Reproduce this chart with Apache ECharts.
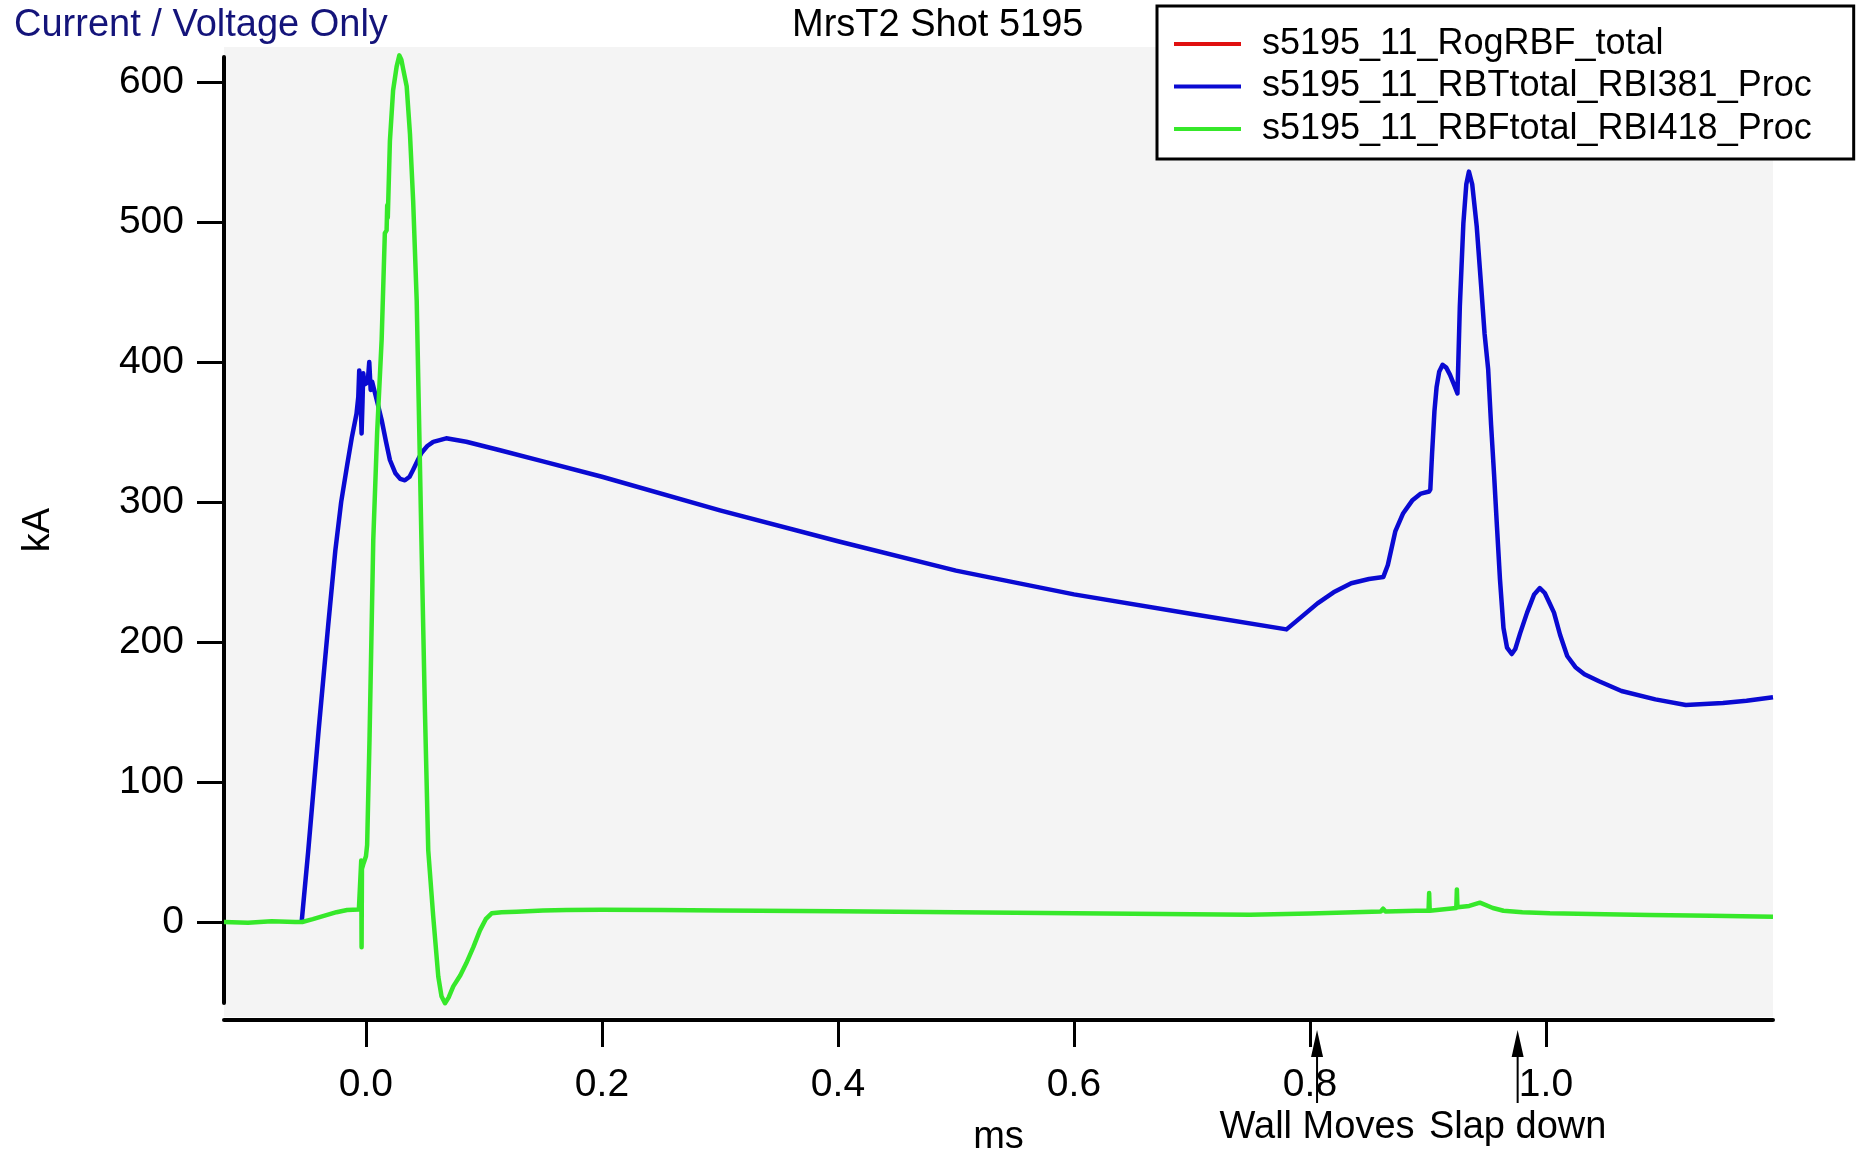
<!DOCTYPE html>
<html><head><meta charset="utf-8">
<script src="https://cdn.jsdelivr.net/npm/echarts@6/dist/echarts.min.js"></script>
<style>html,body{margin:0;padding:0;background:#fff}#c{width:1857px;height:1151px}</style>
</head><body><div id="c"></div>
<script>
// ---------- data ----------
const seriesNames = ['s5195_11_RogRBF_total', 's5195_11_RBTtotal_RBI381_Proc', 's5195_11_RBFtotal_RBI418_Proc'];

const redT = [];
const redV = [];

const blueT = [-0.0545, -0.049, -0.040, -0.032, -0.026, -0.021, -0.016, -0.012, -0.008, -0.0065, -0.0057, -0.0047, -0.0037, -0.0029, -0.0023, -0.0012, 0.0006, 0.0018, 0.0028, 0.0040, 0.0052, 0.0062, 0.0076, 0.0100, 0.0133, 0.0170, 0.0203, 0.0250, 0.0290, 0.0330, 0.0370, 0.0400, 0.0440, 0.0470, 0.0520, 0.0570, 0.0680, 0.0850, 0.1136, 0.1500, 0.2000, 0.3000, 0.4000, 0.5000, 0.6000, 0.7000, 0.7801,
  0.7900, 0.8064, 0.8200, 0.8350, 0.8500, 0.8622, 0.8660, 0.8723, 0.8790, 0.8866, 0.8940, 0.9010, 0.9020, 0.9035, 0.9055, 0.9073, 0.9095, 0.9124, 0.9155, 0.9186, 0.9220, 0.9250, 0.9270, 0.9300, 0.9325, 0.9347, 0.9375, 0.9413, 0.9450, 0.9480, 0.9510, 0.9535, 0.9560, 0.9585, 0.9610, 0.9640, 0.9670, 0.9710, 0.9740, 0.9780, 0.9840, 0.9900, 0.9948, 0.9990, 1.0035, 1.0068, 1.0120, 1.0180, 1.0250, 1.0326, 1.0450, 1.0640, 1.0927, 1.1185, 1.1500, 1.1700, 1.1924];
const blueV = [0, 50, 138, 212, 265, 300, 326, 346, 363, 375, 394, 378, 349, 372, 392, 384, 385, 389, 400, 380, 386, 386, 378, 370, 358.6, 343, 330, 320.5, 316.5, 315.5, 318, 323, 330, 335, 340, 343, 345.5, 343, 337, 329, 318, 294, 272, 251, 234, 220, 209,
  216, 227.6, 235.5, 242, 245, 246.5, 255, 279, 292, 301, 306, 307.5, 309, 335, 365, 382, 393, 398, 396, 391, 384, 377.6, 439.5, 499, 527, 536, 527, 497, 455, 420, 395, 355, 320, 282, 245, 210, 196, 191.4, 195, 206, 221, 234, 238.5, 235, 227, 221, 205, 190, 182, 177, 172, 165, 159, 155, 156.5, 158, 160.5];

const greenT = [-0.1203, -0.100, -0.080, -0.060, -0.054, -0.045, -0.035, -0.025, -0.016, -0.006, -0.0045, -0.0040, -0.0037, -0.0034, -0.0020, 0.0000, 0.0010, 0.0030, 0.0062, 0.0095, 0.0133, 0.0160, 0.0175, 0.0180, 0.0185, 0.0203, 0.0230, 0.0260, 0.0283, 0.0300, 0.0316, 0.0345, 0.0373, 0.0400, 0.0430, 0.0470, 0.0500, 0.0528, 0.0570, 0.0613, 0.0640, 0.0670, 0.0700, 0.0740, 0.0800, 0.0850, 0.0910, 0.0966, 0.1015, 0.1065, 0.1150, 0.1277, 0.1500, 0.1700, 0.2000, 0.2500, 0.3000, 0.4000, 0.5000, 0.6000, 0.7000, 0.7490, 0.8000, 0.8600, 0.8620, 0.8640, 0.8900, 0.9005, 0.9010, 0.9015, 0.9240, 0.9245, 0.9250, 0.9350, 0.9440, 0.9550, 0.9640, 0.9800, 1.0034, 1.0500, 1.0880, 1.1400, 1.1924];
const greenV = [0, -0.5, 0.5, 0, 0, 2, 4.5, 7, 8.6, 9, 9, 44, -18, 38, 42, 47, 55, 130, 273, 350, 416, 492, 494, 512, 503, 558, 594, 611, 619, 616, 609, 597, 563, 515, 444, 273, 150, 51, 4, -39, -53, -58, -54, -46, -38, -29.5, -18, -6, 2, 6.2, 7, 7.4, 8.2, 8.6, 8.8, 8.5, 8.2, 7.6, 7, 6.3, 5.6, 5.2, 6, 7.5, 9.5, 7.5, 8, 8, 20.7, 8, 10, 23.3, 10.5, 11.5, 13.8, 10, 8, 7, 6.2, 5.5, 5, 4.5, 3.8];

const xTicks = [0.0, 0.2, 0.4, 0.6, 0.8, 1.0];
const yTicks = [0, 100, 200, 300, 400, 500, 600];
const xRange = [-0.1203, 1.1924];
const yRange = [-57.86, 617.86];
const annotX = [0.806, 0.976];
const annotLabels = ['Wall Moves', 'Slap down'];
const titleLeft = 'Current / Voltage Only';
const titleMain = 'MrsT2 Shot 5195';
const xName = 'ms';
const yName = 'kA';

// ---------- chart ----------
const FONT = "'Liberation Sans', Arial, Helvetica, sans-serif";
const colors = ['#e01010', '#0a0ad2', '#36e82a'];
const zip = (t, v) => t.map((x, i) => [x, v[i]]);

const chart = echarts.init(document.getElementById('c'), null, {renderer: 'canvas'});

const bgRect = {
  type: 'rect', id: 'bg', z: -10, silent: true,
  shape: {x: 224, y: 47, width: 1549, height: 970},
  style: {fill: '#f4f4f4'}
};

const option = {
  animation: false,
  backgroundColor: '#ffffff',
  title: [
    {text: titleLeft, left: 14, top: 7, padding: 0,
     textStyle: {fontFamily: FONT, fontSize: 38, fontWeight: 'normal', color: '#14147a'}},
    {text: titleMain, left: 792, top: 7, padding: 0,
     textStyle: {fontFamily: FONT, fontSize: 38, fontWeight: 'normal', color: '#000'}}
  ],
  legend: {
    orient: 'vertical', left: 1157, top: 6,
    padding: [20, 42, 12, 15], itemGap: 6.5,
    itemWidth: 67, itemHeight: 4,
    backgroundColor: '#fff', borderColor: '#000', borderWidth: 3,
    selectedMode: false,
    data: seriesNames,
    lineStyle: {width: 4},
    textStyle: {fontFamily: FONT, fontSize: 36, color: '#000', padding: [0, 0, 0, 16], lineHeight: 36}
  },
  grid: {left: 224, right: 84, top: 57, bottom: 148, containLabel: false, outerBoundsMode: 'none'},
  xAxis: {
    type: 'value', min: xRange[0], max: xRange[1], offset: 17,
    name: xName, nameLocation: 'middle', nameGap: 99,
    nameTextStyle: {fontFamily: FONT, fontSize: 38, color: '#000'},
    axisLine: {onZero: false, lineStyle: {color: '#000', width: 4}},
    axisTick: {show: true, length: 27, lineStyle: {color: '#000', width: 3}, customValues: xTicks},
    axisLabel: {margin: 46, fontFamily: FONT, fontSize: 39, color: '#000', customValues: xTicks,
      formatter: v => v.toFixed(1)},
    splitLine: {show: false}
  },
  yAxis: {
    type: 'value', min: yRange[0], max: yRange[1],
    name: yName, nameLocation: 'middle', nameGap: 166,
    nameTextStyle: {fontFamily: FONT, fontSize: 38, color: '#000'},
    axisLine: {onZero: false, lineStyle: {color: '#000', width: 4}},
    axisTick: {show: true, length: 27, lineStyle: {color: '#000', width: 3}, customValues: yTicks},
    axisLabel: {margin: 40, fontFamily: FONT, fontSize: 39, color: '#000', customValues: yTicks,
      formatter: v => String(Math.round(v))},
    splitLine: {show: false}
  },
  graphic: {elements: [bgRect]},
  series: [
    {name: seriesNames[0], type: 'line', data: zip(redT, redV), symbol: 'none', clip: false,
     color: colors[0], lineStyle: {color: colors[0], width: 4.5}},
    {name: seriesNames[1], type: 'line', data: zip(blueT, blueV), symbol: 'none', clip: false,
     color: colors[1], lineStyle: {color: colors[1], width: 4.5, join: 'round'}},
    {name: seriesNames[2], type: 'line', data: zip(greenT, greenV), symbol: 'none', clip: false,
     color: colors[2], lineStyle: {color: colors[2], width: 4.5, join: 'round'}}
  ]
};
chart.setOption(option);

// annotations under the x axis, positioned through the x scale
const annEls = [bgRect];
annotX.forEach((xv, i) => {
  const px = chart.convertToPixel({xAxisIndex: 0}, xv);
  annEls.push({type: 'line', id: 'ashaft' + i, silent: true, z: 10,
    shape: {x1: px, y1: 1103, x2: px, y2: 1050}, style: {stroke: '#000', lineWidth: 2}});
  annEls.push({type: 'polygon', id: 'ahead' + i, silent: true, z: 10,
    shape: {points: [[px, 1030], [px - 6, 1057], [px + 6, 1057]]}, style: {fill: '#000'}});
  annEls.push({type: 'text', id: 'atext' + i, silent: true, z: 10,
    x: px, y: 1128,
    style: {text: annotLabels[i], font: '38px ' + FONT, fill: '#000', align: 'center', verticalAlign: 'middle'}});
});
chart.setOption({graphic: {elements: annEls}});
</script>
</body></html>
